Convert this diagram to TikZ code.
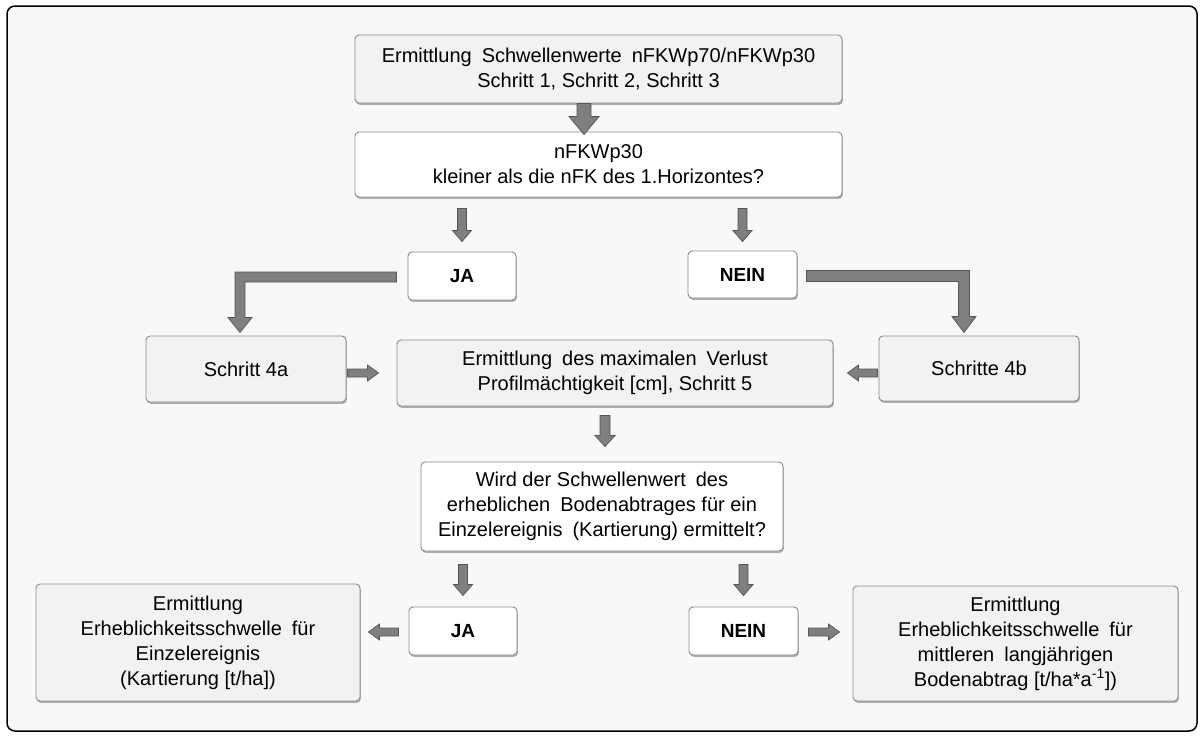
\documentclass[tikz,border=0pt]{standalone}
\usepackage{fontspec}
\setmainfont{Liberation Sans}
\usetikzlibrary{calc,shadows}

\definecolor{framebg}{HTML}{F8F8F8}
\definecolor{boxgray}{HTML}{F2F2F2}
\definecolor{boxline}{HTML}{8A8A8A}
\definecolor{arrowbody}{HTML}{7F7F7F}
\definecolor{arrowline}{HTML}{555555}

% slightly wider word gap
\newcommand\wg{\hspace{0.5em}}

\tikzset{
  base/.style={draw=boxline, line width=0.9pt, rounded corners=4pt, align=center,
    inner sep=0pt, font=\fontsize{20}{25}\selectfont,
    drop shadow={shadow xshift=0.8pt, shadow yshift=-1.8pt, opacity=0.3, fill=black}},
  graybox/.style={base, fill=boxgray},
  whitebox/.style={base, fill=white},
  answer/.style={whitebox, font=\fontsize{19}{23}\selectfont\bfseries},
  arrowfill/.style={fill=arrowbody, draw=arrowline, line width=0.7pt, line join=miter},
}

% straight block arrow: from, to, half shaft width, half head width, head length
\newcommand\blkarrow[5]{%
  \coordinate (ba-h) at ($(#2)!#5!(#1)$);
  \filldraw[arrowfill] ($(#1)!#3!90:(#2)$) -- ($(ba-h)!#3!-90:(#1)$)
    -- ($(ba-h)!#4!-90:(#1)$) -- (#2) -- ($(ba-h)!#4!90:(#1)$)
    -- ($(ba-h)!#3!90:(#1)$) -- ($(#1)!#3!-90:(#2)$) -- cycle;
}

\begin{document}
\begin{tikzpicture}[x=1pt, y=1pt]
\useasboundingbox (0,0) rectangle (1200,-736);
\draw[black, line width=1.5pt, rounded corners=8pt, fill=framebg] (7,-6) rectangle (1197,-731);

% boxes
\node[graybox, minimum width=487pt, minimum height=68pt] (b1) at (598.5,-69)
  {Ermittlung\wg Schwellenwerte\wg nFKWp70/nFKWp30\\Schritt 1, Schritt 2, Schritt 3};
\node[whitebox, minimum width=487pt, minimum height=65pt] (b2) at (598.5,-164.5)
  {nFKWp30\\kleiner als die nFK des 1.Horizontes?};
\node[answer, minimum width=108pt, minimum height=48pt] (ja1) at (462,-276) {JA};
\node[answer, minimum width=109pt, minimum height=47pt] (nein1) at (742.5,-274.5) {NEIN};
\node[graybox, minimum width=200pt, minimum height=66pt] (s4a) at (246,-369) {Schritt 4a};
\node[graybox, minimum width=436pt, minimum height=66pt] (mid) at (615,-373)
  {Ermittlung\wg des maximalen\wg Verlust\\Profilmächtigkeit [cm], Schritt 5};
\node[graybox, minimum width=200pt, minimum height=65pt] (s4b) at (979,-368.5) {Schritte 4b};
\node[whitebox, minimum width=362pt, minimum height=89pt] (q) at (602,-506.5)
  {Wird der Schwellenwert\wg des\\erheblichen\wg Bodenabtrages für ein\\Einzelereignis\wg (Kartierung) ermittelt?};
\node[answer, minimum width=108pt, minimum height=48pt] (ja2) at (463,-631) {JA};
\node[answer, minimum width=109pt, minimum height=48pt] (nein2) at (743.5,-631) {NEIN};
\node[graybox, minimum width=324pt, minimum height=117pt] (e1) at (198,-642.5)
  {Ermittlung\\Erheblichkeitsschwelle\wg für\\Einzelereignis\\(Kartierung [t/ha])};
\node[graybox, minimum width=325pt, minimum height=115pt] (e2) at (1015.5,-643.5)
  {Ermittlung\\Erheblichkeitsschwelle\wg für\\mittleren\wg langjährigen\\Bodenabtrag [t/ha*a\textsuperscript{-1}])};

% straight connectors
\coordinate (a1s) at ($(b1.south)+(-14.5,0)$);
\coordinate (a1e) at ($(b2.north)+(-14.5,-3)$);
\blkarrow{a1s}{a1e}{7pt}{15pt}{18pt}

\coordinate (a2s) at ($(b2.south -| ja1.north)+(0,-11)$);
\coordinate (a2e) at ($(ja1.north)+(0,10)$);
\blkarrow{a2s}{a2e}{4.5pt}{9.5pt}{11pt}

\coordinate (a3s) at ($(b2.south -| nein1.north)+(0,-11)$);
\coordinate (a3e) at ($(nein1.north)+(0,9)$);
\blkarrow{a3s}{a3e}{4.5pt}{9.5pt}{11pt}

\coordinate (a6s) at ($(s4a.east |- mid.west)+(1,0)$);
\coordinate (a6e) at ($(mid.west)+(-18,0)$);
\blkarrow{a6s}{a6e}{4pt}{8pt}{11pt}

\coordinate (a7s) at ($(s4b.west |- mid.east)+(-1,0)$);
\coordinate (a7e) at ($(mid.east)+(14,0)$);
\blkarrow{a7s}{a7e}{4pt}{8pt}{11pt}

\coordinate (a8s) at ($(mid.south)+(-10,-9)$);
\coordinate (a8e) at ($(q.north)+(3,15)$);
\blkarrow{a8s}{a8e}{5pt}{10pt}{11pt}

\coordinate (a9s) at ($(q.south -| ja2.north)+(0,-13)$);
\coordinate (a9e) at ($(ja2.north)+(0,11)$);
\blkarrow{a9s}{a9e}{4.5pt}{9.5pt}{11pt}

\coordinate (a10s) at ($(q.south -| nein2.north)+(0,-13)$);
\coordinate (a10e) at ($(nein2.north)+(0,11)$);
\blkarrow{a10s}{a10e}{4.5pt}{9.5pt}{11pt}

\coordinate (a11s) at ($(ja2.west)+(-10,-1)$);
\coordinate (a11e) at ($(e1.east |- ja2.west)+(8,-1)$);
\blkarrow{a11s}{a11e}{4pt}{8pt}{11pt}

\coordinate (a12s) at ($(nein2.east)+(10,-1)$);
\coordinate (a12e) at ($(e2.west |- nein2.east)+(-13,-1)$);
\blkarrow{a12s}{a12e}{4pt}{8pt}{11pt}

% elbow connectors from the first answers
\coordinate (la0) at ($(ja1.west)+(-11,-1)$);
\coordinate (lat) at ($(s4a.north)+(-6,3)$);
\filldraw[arrowfill] let \p1=(la0), \p2=(lat) in
  (\x1,\y1+5pt) -- (\x2-5pt,\y1+5pt) -- (\x2-5pt,\y2+15pt) -- (\x2-12pt,\y2+15pt)
  -- (\x2,\y2) -- (\x2+12pt,\y2+15pt) -- (\x2+5pt,\y2+15pt) -- (\x2+5pt,\y1-5pt)
  -- (\x1,\y1-5pt) -- cycle;

\coordinate (ra0) at ($(nein1.east)+(9,-1.5)$);
\coordinate (rat) at ($(s4b.north)+(-15,3)$);
\filldraw[arrowfill] let \p1=(ra0), \p2=(rat) in
  (\x1,\y1+5.5pt) -- (\x2+5.5pt,\y1+5.5pt) -- (\x2+5.5pt,\y2+16pt) -- (\x2+12pt,\y2+16pt)
  -- (\x2,\y2) -- (\x2-12pt,\y2+16pt) -- (\x2-5.5pt,\y2+16pt) -- (\x2-5.5pt,\y1-5.5pt)
  -- (\x1,\y1-5.5pt) -- cycle;
\end{tikzpicture}
\end{document}
